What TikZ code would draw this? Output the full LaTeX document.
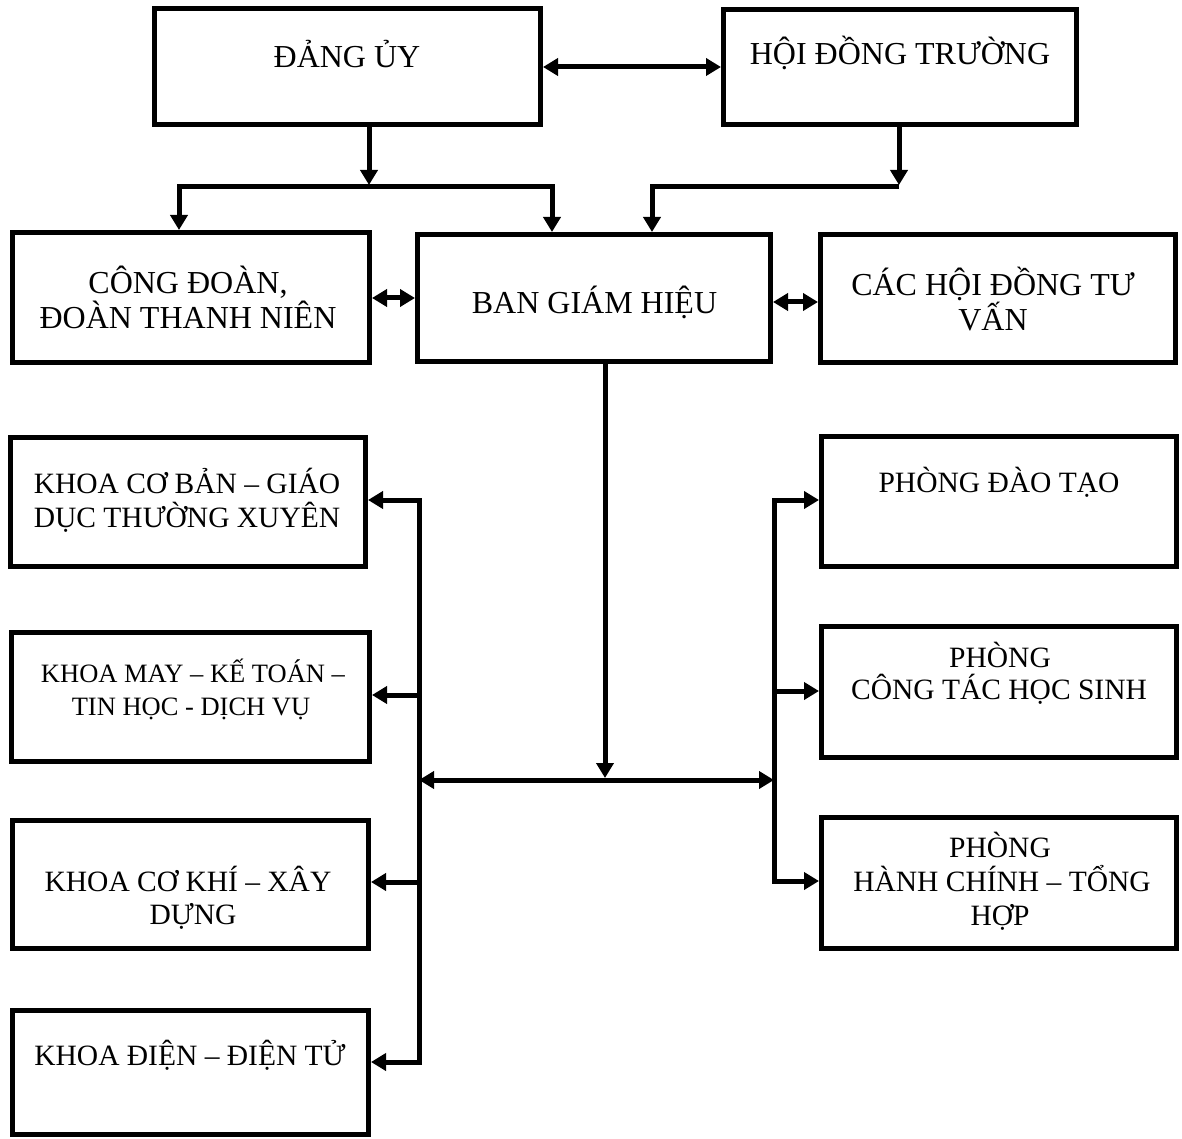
\documentclass[tikz,border=0pt]{standalone}
\usepackage{fontspec}
\setmainfont{Liberation Serif}
\usetikzlibrary{arrows.meta}
\begin{document}
\begin{tikzpicture}[x=1pt,y=-1pt,
  box/.style={draw=black, line width=5pt, rectangle, inner sep=0pt, outer sep=2.5pt},
  big/.style={anchor=base, inner sep=0pt, font=\fontsize{32}{38}\selectfont},
  mid/.style={anchor=base, inner sep=0pt, font=\fontsize{29.5}{34}\selectfont},
  small/.style={anchor=base, inner sep=0pt, font=\fontsize{26.5}{31}\selectfont},
  conn/.style={line width=5pt, line join=miter},
  >={Triangle[length=15pt,width=17pt]}
]
\useasboundingbox (0,0) rectangle (1182,1139);
\fill[white] (0,0) rectangle (1182,1139);

% boxes
\node[box, minimum width=386pt, minimum height=116pt] (dang) at (347.5,67) {};
\node[box, minimum width=353pt, minimum height=115pt] (hoidong) at (900,67) {};
\node[box, minimum width=357pt, minimum height=130pt] (congdoan) at (191,297.5) {};
\node[box, minimum width=353pt, minimum height=127pt] (bgh) at (594,298) {};
\node[box, minimum width=355pt, minimum height=128pt] (cachoi) at (998,298.5) {};
\node[box, minimum width=355pt, minimum height=129pt] (khoa1) at (188,502) {};
\node[box, minimum width=358pt, minimum height=129pt] (khoa2) at (190.5,697) {};
\node[box, minimum width=356pt, minimum height=128pt] (khoa3) at (190.5,884.5) {};
\node[box, minimum width=356pt, minimum height=124pt] (khoa4) at (190.5,1072.5) {};
\node[box, minimum width=355pt, minimum height=130pt] (pdt) at (999,501.5) {};
\node[box, minimum width=355pt, minimum height=131pt] (pct) at (999,692) {};
\node[box, minimum width=355pt, minimum height=131pt] (phc) at (999,883) {};

% texts
\node[big] (tdang) at (347,68) {ĐẢNG ỦY};
\node[big] (thoidong) at (900,65) {HỘI ĐỒNG TRƯỜNG};
\node[big] (tcd1) at (188,294) {CÔNG ĐOÀN,};
\node[big] (tcd2) at (188,328) {ĐOÀN THANH NIÊN};
\node[big] (tbgh) at (594.5,313) {BAN GIÁM HIỆU};
\node[big] (tch1) at (993,296) {CÁC HỘI ĐỒNG TƯ};
\node[big] (tch2) at (993,330) {VẤN};
\node[mid] (tk11) at (187,493) {KHOA CƠ BẢN – GIÁO};
\node[mid] (tk12) at (187,527) {DỤC THƯỜNG XUYÊN};
\node[small] (tk21) at (193,682) {KHOA MAY – KẾ TOÁN –};
\node[small] (tk22) at (191,715) {TIN HỌC - DỊCH VỤ};
\node[mid] (tk31) at (188,891) {KHOA CƠ KHÍ – XÂY};
\node[mid] (tk32) at (193,924) {DỰNG};
\node[mid] (tk4) at (190,1065) {KHOA ĐIỆN – ĐIỆN TỬ};
\node[mid] (tpdt) at (999,492) {PHÒNG ĐÀO TẠO};
\node[mid] (tpct1) at (1000,667) {PHÒNG};
\node[mid] (tpct2) at (999,699) {CÔNG TÁC HỌC SINH};
\node[mid] (tphc1) at (1000,857) {PHÒNG};
\node[mid] (tphc2) at (1002,891) {HÀNH CHÍNH – TỔNG};
\node[mid] (tphc3) at (1000,925) {HỢP};

% junction coordinates
\coordinate (jA) at (369,187);
\coordinate (jL) at (179,187);
\coordinate (jR) at (552,187);
\coordinate (kA) at (899,187);
\coordinate (kL) at (652,187);
\coordinate (cdY) at (0,298);
\coordinate (cbY) at (0,302);
\coordinate (m) at (605,780);
\coordinate (ml) at (419,780);
\coordinate (mr) at (774,780);
\coordinate (lbT) at (419,500);
\coordinate (lb2) at (419,695);
\coordinate (lb3) at (419,882);
\coordinate (lbB) at (419,1062);
\coordinate (rbT) at (774,500);
\coordinate (rb2) at (774,691);
\coordinate (rbB) at (774,881);

% connectors
\draw[conn,<->] (dang.east) -- (hoidong.west);
\draw[conn,->,shorten >=2pt] (dang.south -| jA) -- (jA);
\draw[conn,<->] (congdoan.north -| jL) -- (jL) -- (jR) -- (bgh.north -| jR);
\draw[conn,->,shorten >=2pt] (hoidong.south -| kA) -- (kA);
\draw[conn,->] (kA) -- (kL) -- (bgh.north -| kL);
\draw[conn,<->] (congdoan.east |- cdY) -- (bgh.west |- cdY);
\draw[conn,<->] (bgh.east |- cbY) -- (cachoi.west |- cbY);
\draw[conn,->,shorten >=2pt] (bgh.south -| m) -- (m);
\draw[conn,<->] (ml) -- (mr);
\draw[conn,<->] (khoa4.east |- lbB) -- (lbB) -- (lbT) -- (khoa1.east |- lbT);
\draw[conn,->] (lb2) -- (khoa2.east |- lb2);
\draw[conn,->] (lb3) -- (khoa3.east |- lb3);
\draw[conn,<->] (pdt.west |- rbT) -- (rbT) -- (rbB) -- (phc.west |- rbB);
\draw[conn,->] (rb2) -- (pct.west |- rb2);
\end{tikzpicture}
\end{document}
